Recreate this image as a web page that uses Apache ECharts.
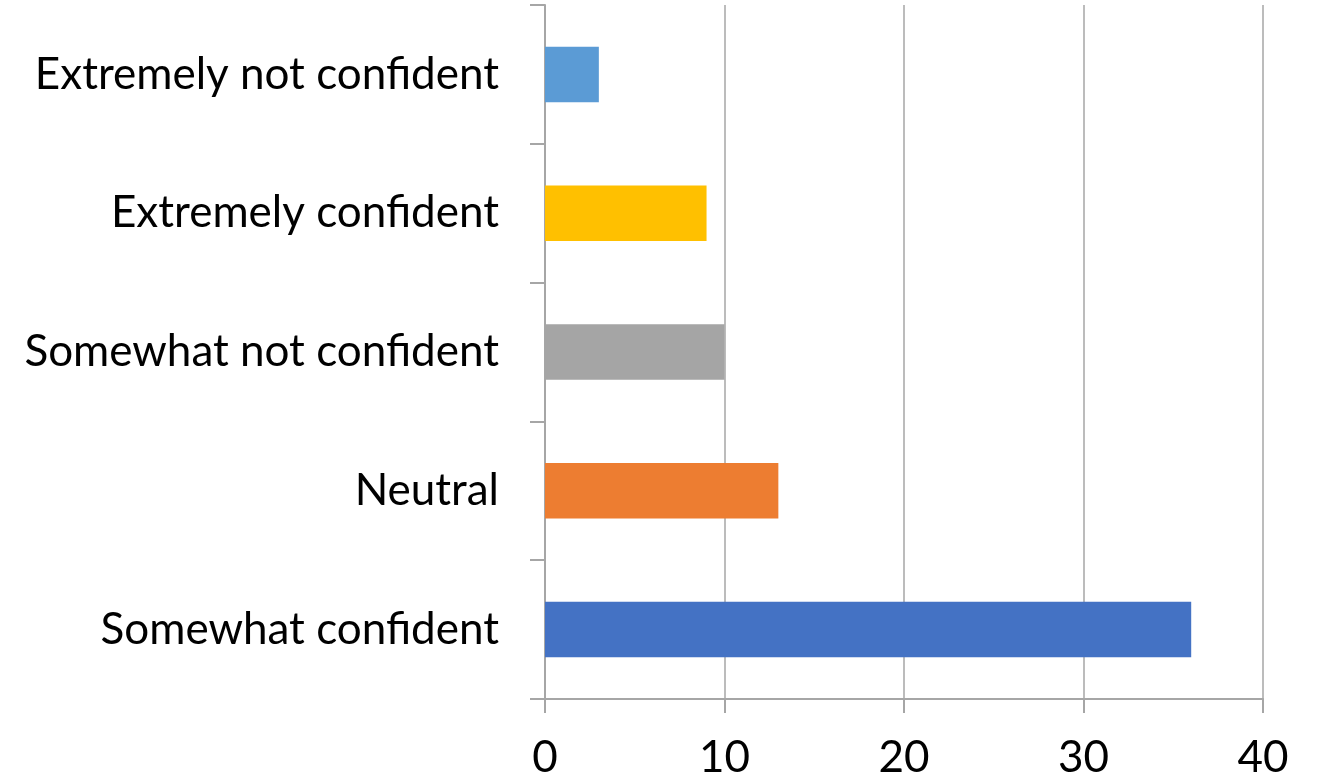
<!DOCTYPE html>
<html>
<head>
<meta charset="utf-8">
<script src="https://cdn.jsdelivr.net/npm/echarts@6/dist/echarts.min.js"></script>
<style>
html,body{margin:0;padding:0;background:#fff;}
#chart{width:1317px;height:782px;}
</style>
</head>
<body>
<div id="chart"></div>
<script>
const categories = ["Extremely not confident", "Extremely confident", "Somewhat not confident", "Neutral", "Somewhat confident"];
const values = [3, 9, 10, 13, 36];
const barColors = ["#5B9BD5", "#FFC000", "#A5A5A5", "#ED7D31", "#4472C4"];
const xTicks = [0, 10, 20, 30, 40];

const chart = echarts.init(document.getElementById('chart'), null, {renderer: 'canvas'});
const font = 'Lato, "Open Sans", sans-serif';
chart.setOption({
  animation: false,
  backgroundColor: '#ffffff',
  grid: {left: 545, right: 54, top: 5, bottom: 83, containLabel: false},
  xAxis: {
    type: 'value',
    min: xTicks[0],
    max: xTicks[xTicks.length - 1],
    interval: 10,
    axisLine: {show: true, lineStyle: {color: '#A6A6A6', width: 2}},
    axisTick: {show: true, length: 14, lineStyle: {color: '#A6A6A6', width: 2}},
    splitLine: {show: true, lineStyle: {color: '#A6A6A6', width: 1.5}},
    axisLabel: {color: '#000', fontSize: 44, fontFamily: font, margin: 37}
  },
  yAxis: {
    type: 'category',
    inverse: true,
    data: categories,
    axisLine: {show: true, lineStyle: {color: '#A6A6A6', width: 2}},
    axisTick: {show: true, length: 15, lineStyle: {color: '#A6A6A6', width: 2}},
    axisLabel: {color: '#000', fontSize: 44, fontFamily: font, margin: 46}
  },
  series: [{
    type: 'bar',
    barWidth: '40%',
    data: values.map((v, i) => ({value: v, itemStyle: {color: barColors[i]}}))
  }]
});
</script>
</body>
</html>
